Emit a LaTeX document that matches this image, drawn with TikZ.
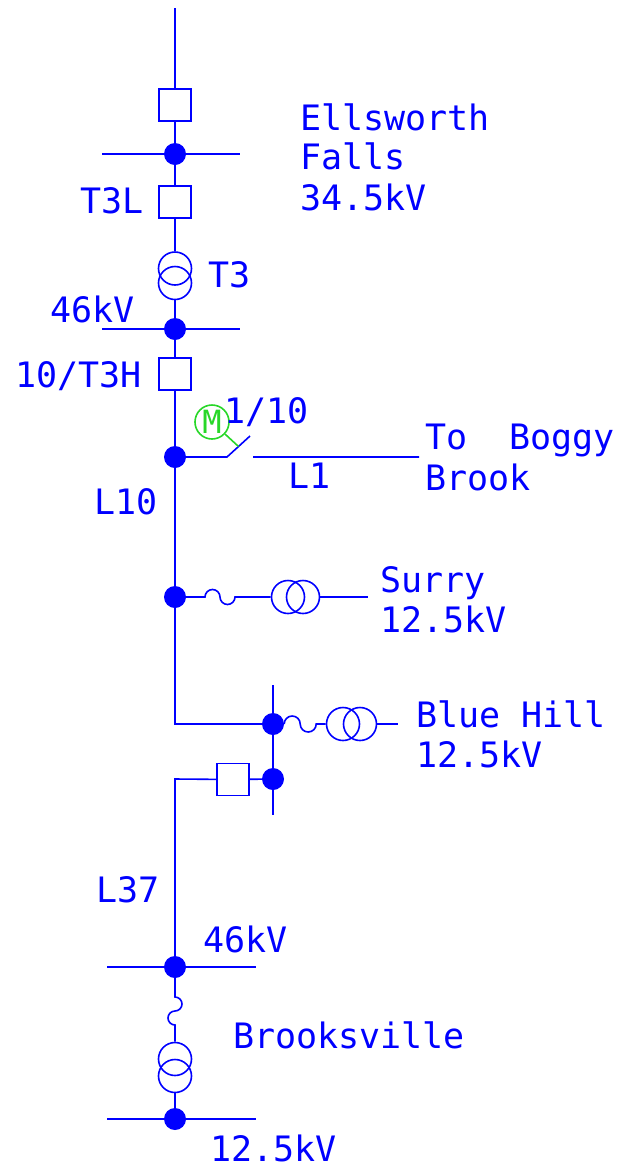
\documentclass[tikz,border=0pt]{standalone}
\usepackage{fontspec}
\newfontfamily\cadfont{DejaVu Sans Mono}
\usetikzlibrary{calc}
\definecolor{lineblue}{RGB}{0,0,255}
\definecolor{motgreen}{RGB}{40,215,40}
\tikzset{
	wire/.style={lineblue,line width=1.6pt},
	busdot/.style={circle,fill=lineblue,inner sep=0pt,minimum size=22pt},
	brk/.style={draw=lineblue,line width=1.6pt,inner sep=0pt,minimum width=32pt,minimum height=32pt},
	coil/.style={circle,draw=lineblue,line width=1.6pt,inner sep=0pt,minimum size=33pt},
	lbl/.style={text=lineblue,font=\cadfont\fontsize{35}{40}\selectfont,inner sep=0pt,text depth=0pt,anchor=base west}
}
\begin{document}
\begin{tikzpicture}[x=1pt,y=-1pt]
	\useasboundingbox (0,0) rectangle (617,1168);
	\path
	(175,8) coordinate (top)
	(102,154) coordinate (efw) (240,154) coordinate (efe)
	(102,329) coordinate (hvw) (240,329) coordinate (hve)
	(227,457) coordinate (sw1) (250,436) coordinate (sw2)
	(253,457) coordinate (sw3) (419,457) coordinate (l1e)
	(205,597) coordinate (fs1) (368,597) coordinate (sue)
	(175,724) coordinate (c1) (398,724) coordinate (bhe)
	(273,685) coordinate (bht) (273,815) coordinate (bhb)
	(175,779) coordinate (c2)
	(107,967) coordinate (brw) (256,967) coordinate (bre)
	(175,997) coordinate (fb1)
	(107,1119) coordinate (lvw) (256,1119) coordinate (lve);
	% breakers, transformers, bus dots
	\node[brk] (cb) at (175,105) {};
	\node[brk] (t3l) at (175,202) {};
	\node[brk] (t3h) at (175,374) {};
	\node[brk] (l37) at (233,779.5) {};
	\foreach \n/\x/\y in {t3a/175/268.5,t3b/175/283,sua/288/597,sub/303/597,bha/343/724,bhb2/360/724,bra/175/1059,brb/175/1076}
		\node[coil] (\n) at (\x,\y) {};
	\foreach \n/\x/\y in {ef/175/154,hv/175/329,sw/175/457,su/175/597,bh/273/724,bl/273/779,br/175/967,lv/175/1119}
		\node[busdot] (\n) at (\x,\y) {};
	% buses
	\draw[wire] (efw)--(efe) (hvw)--(hve) (brw)--(bre) (lvw)--(lve) (bht)--(bhb);
	% main line
	\draw[wire] (top)--(cb)--(ef)--(t3l)--(t3a);
	\draw[wire] (t3b)--(hv)--(t3h)--(sw)--(su)--(c1)--(bh);
	\draw[wire] (bl)--(l37)--(c2)--(br);
	% switch to L1
	\draw[wire] (sw)--(sw1)--(sw2) (sw3)--(l1e);
	\node[circle,draw=motgreen,line width=1.6pt,minimum size=34pt,inner sep=0pt,text=motgreen,font=\cadfont\fontsize{32}{32}\selectfont] (mot) at (212,422) {M};
	\draw[motgreen,line width=1.6pt] (mot)--($(sw1)!.5!(sw2)$);
	% fused taps
	\draw[wire] (su)--(fs1) arc[start angle=180,end angle=0,radius=7.5pt] arc[start angle=180,end angle=360,radius=7.5pt]--(sua);
	\draw[wire] (sub)--(sue);
	\draw[wire] (bh.east) arc[start angle=180,end angle=0,radius=8pt] arc[start angle=180,end angle=360,radius=8pt]--(bha);
	\draw[wire] (bhb2)--(bhe);
	\draw[wire] (br)--(fb1) arc[start angle=90,end angle=-90,radius=7pt] arc[start angle=90,end angle=270,radius=7pt]--(bra);
	\draw[wire] (brb)--(lv);
	% labels
	\foreach \t/\x/\y [count=\i] in {Ellsworth/300/130,Falls/300/169,34.5kV/300/210,T3L/80/213,T3/208/287,46kV/50/322,{10/T3H}/15/387,{1/10}/224/423,To~~Boggy/425/449,Brook/425/490,L1/288/488,L10/94/514,Surry/380/592,12.5kV/380/632,Blue Hill/416/727,12.5kV/416/767,L37/96/902,46kV/203/952,Brooksville/233/1048,12.5kV/210/1161}
		\node[lbl] (lab\i) at (\x,\y) {\t};
\end{tikzpicture}
\end{document}
